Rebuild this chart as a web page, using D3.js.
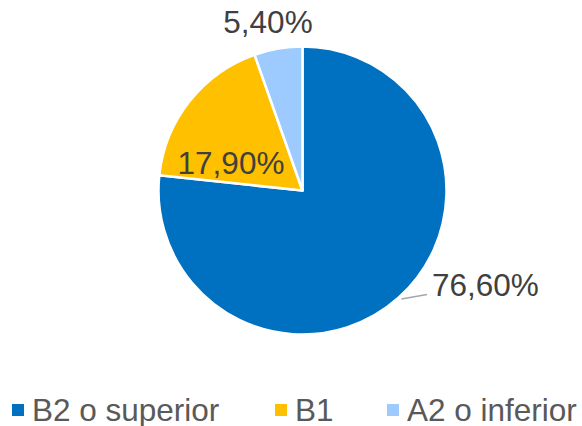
<!DOCTYPE html>
<html><head><meta charset="utf-8">
<script src="https://cdn.jsdelivr.net/npm/d3@7"></script>
<style>html,body{margin:0;padding:0;background:#fff;}svg{display:block;}</style>
</head><body>
<svg id="c" width="582" height="426"></svg>
<script>
const categories = ["B2 o superior", "B1", "A2 o inferior"];
const values = [76.6, 17.9, 5.4];
const labels = ["76,60%", "17,90%", "5,40%"];
const colors = ["#0070C0", "#FFC000", "#9DCBFF"];

const svg = d3.select("#c");
const cx = 302.5, cy = 190.5, R = 144;
const font = "'Liberation Sans', Arial, sans-serif";

const pie = d3.pie().sort(null).value(d => d)(values);
const arc = d3.arc().innerRadius(0).outerRadius(R);
const g = svg.append("g").attr("transform", `translate(${cx},${cy})`);
g.selectAll("path").data(pie).join("path")
  .attr("d", arc)
  .attr("fill", (d, i) => colors[i])
  .attr("stroke", "#fff").attr("stroke-width", 2.5).attr("stroke-linejoin", "round");

// leader line for the large slice
g.append("path")
  .attr("d", `M${401.5-cx},${299-cy} L${427-cx},${294.5-cy}`)
  .attr("fill", "none").attr("stroke", "#A6A6A6").attr("stroke-width", 1.3);

// labels: [x, y(baseline), anchor]
const labelPos = [[432, 295.5, "start"], [231, 173.5, "middle"], [268, 33, "middle"]];
svg.selectAll("text.lbl").data(labels).join("text").attr("class", "lbl")
  .attr("x", (d, i) => labelPos[i][0]).attr("y", (d, i) => labelPos[i][1])
  .attr("text-anchor", (d, i) => labelPos[i][2])
  .attr("font-family", font).attr("font-size", 31.5).attr("fill", "#404040")
  .text(d => d);

// legend
const legX = [12, 275, 387];
const lg = svg.selectAll("g.leg").data(categories).join("g").attr("class", "leg")
  .attr("transform", (d, i) => `translate(${legX[i]},0)`);
lg.append("rect").attr("x", 0).attr("y", 404).attr("width", 12).attr("height", 12)
  .attr("fill", (d, i) => colors[i]);
lg.append("text").attr("x", 20).attr("y", 420.5)
  .attr("font-family", font).attr("font-size", 31.5).attr("fill", "#595959")
  .text(d => d);
</script>
</body></html>
